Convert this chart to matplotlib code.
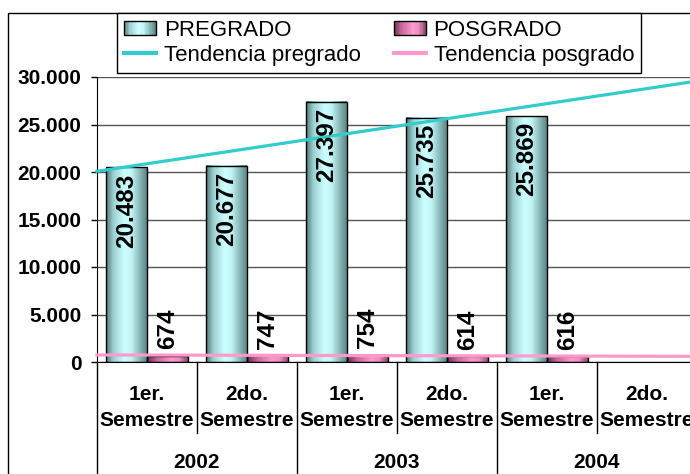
import matplotlib
matplotlib.use('Agg')
import matplotlib.pyplot as plt
import matplotlib.transforms as mtransforms
import numpy as np
from matplotlib import font_manager
from matplotlib.colors import LinearSegmentedColormap
from matplotlib.legend_handler import HandlerBase
from matplotlib.lines import Line2D
from matplotlib.patches import Rectangle
from matplotlib.ticker import FuncFormatter

# datos
periodos = ['1er.', '2do.', '1er.', '2do.', '1er.', '2do.']
anios = ['2002', '2003', '2004']
pregrado = [20483, 20677, 27397, 25735, 25869]
posgrado = [674, 747, 754, 614, 616]

plt.rcParams['font.family'] = ['Liberation Sans', 'DejaVu Sans']

installed = {f.name for f in font_manager.fontManager.ttflist}
if 'Liberation Sans Narrow' in installed:
    legend_font = {'family': 'Liberation Sans Narrow', 'size': 19}
else:
    legend_font = {'family': 'Liberation Sans', 'size': 16}

cmap_pre = LinearSegmentedColormap.from_list(
    'pre', [(0, '#4f7878'), (0.18, '#9ccfcf'), (0.45, '#ccffff'),
            (0.62, '#c2f5f5'), (1, '#5a8585')])
cmap_pos = LinearSegmentedColormap.from_list(
    'pos', [(0, '#6a3050'), (0.25, '#c86a9c'), (0.6, '#ff99cc'),
            (0.78, '#f08cc0'), (1, '#8a4a6c')])

W, H = 690, 474
fig = plt.figure(figsize=(W / 100, H / 100), dpi=100)
ax = fig.add_axes([97 / W, 112 / H, 600 / W, 285 / H])

x = np.arange(len(pregrado))
ancho = 0.41
bars_pre = ax.bar(x - ancho / 2, pregrado, ancho, facecolor='none',
                  edgecolor='black', linewidth=1, zorder=3)
bars_pos = ax.bar(x + ancho / 2, posgrado, ancho, facecolor='none',
                  edgecolor='black', linewidth=1, zorder=3)

# relleno con degradado tipo cilindro
grad = np.linspace(0, 1, 256).reshape(1, -1)
for bars, cmap in [(bars_pre, cmap_pre), (bars_pos, cmap_pos)]:
    for b in bars:
        x0, y0 = b.get_x(), b.get_y()
        ax.imshow(grad, extent=(x0, x0 + b.get_width(), y0, y0 + b.get_height()),
                  cmap=cmap, aspect='auto', zorder=2, interpolation='bilinear')

ax.set_xlim(-0.5, 5.5)
ax.set_ylim(0, 30000)
ax.set_aspect('auto')

# lineas de tendencia
xt = np.array([-0.5, 5.5])
p1 = np.polyfit(x, pregrado, 1)
p2 = np.polyfit(x, posgrado, 1)
ax.plot(xt, np.polyval(p1, xt), color='#33cccc', lw=2.3, zorder=4, clip_on=False)
ax.plot(xt, np.polyval(p2, xt), color='#ff99cc', lw=2.3, zorder=4, clip_on=False)

fmt = lambda v: f'{int(v):,}'.replace(',', '.')
for b, v in zip(bars_pre, pregrado):
    ax.annotate(fmt(v), (b.get_x() + b.get_width() / 2, v), xytext=(0, -4.3),
                textcoords='offset points', rotation=90, ha='center', va='top',
                fontsize=17.5, fontweight='bold', zorder=5)
for b, v in zip(bars_pos, posgrado):
    ax.annotate(fmt(v), (b.get_x() + b.get_width() / 2, v), xytext=(0, 4.6),
                textcoords='offset points', rotation=90, ha='center', va='bottom',
                fontsize=17.5, fontweight='bold', zorder=5)

ax.yaxis.set_major_locator(plt.MultipleLocator(5000))
ax.yaxis.set_major_formatter(FuncFormatter(lambda v, p: fmt(v)))
ax.tick_params(axis='y', length=4.3, width=1, pad=7, labelsize=15)
for t in ax.get_yticklabels():
    t.set_fontweight('bold')
ax.set_xticks([])
ax.grid(axis='y', color='#555555', linewidth=1, zorder=1)
ax.set_axisbelow(True)
ax.spines['top'].set_visible(False)
ax.spines['right'].set_visible(False)

# etiquetas del eje x en dos niveles
tr = mtransforms.blended_transform_factory(ax.transData, fig.transFigure)
for i, per in enumerate(periodos):
    ax.text(i, 1 - 395 / H, per, transform=tr, ha='center', va='center',
            fontsize=15, fontweight='bold')
    ax.text(i, 1 - 420 / H, 'Semestre', transform=tr, ha='center', va='center',
            fontsize=15, fontweight='bold')
for j, a in enumerate(anios):
    ax.text(2 * j + 0.5, 1 - 463 / H, a, transform=tr, ha='center', va='center',
            fontsize=15, fontweight='bold')
for xs in [-0.5, 1.5, 3.5]:
    ax.add_line(Line2D([xs, xs], [112 / H, -0.05], transform=tr, color='black',
                       lw=1, clip_on=False))
for xs in [0.5, 2.5, 4.5]:
    ax.add_line(Line2D([xs, xs], [112 / H, 1 - 433 / H], transform=tr,
                       color='black', lw=1, clip_on=False))

# borde exterior
fig.patches.append(Rectangle((8 / W, -0.1), 1.0, 1.1 - 13 / H, transform=fig.transFigure,
                             fill=False, edgecolor='black', lw=1))


class GradientHandler(HandlerBase):
    def __init__(self, cmap):
        super().__init__()
        self.cmap = cmap

    def create_artists(self, legend, orig_handle, xdescent, ydescent,
                       width, height, fontsize, trans):
        h = height * 0.85
        x0, y0 = -xdescent, -ydescent + (height - h) / 2
        n = 24
        arts = [Rectangle((x0 + i * width / n, y0), width / n * 1.05, h,
                          facecolor=self.cmap((i + 0.5) / n), edgecolor='none',
                          transform=trans) for i in range(n)]
        arts.append(Rectangle((x0, y0), width, h, facecolor='none',
                              edgecolor='black', lw=1, transform=trans))
        return arts


proxy_pre = Rectangle((0, 0), 1, 1)
proxy_pos = Rectangle((0, 0), 1, 1)
handles = [proxy_pre, Line2D([], [], color='#33cccc', lw=3),
           proxy_pos, Line2D([], [], color='#ff99cc', lw=3)]
labels = ['PREGRADO', 'Tendencia pregrado', 'POSGRADO', 'Tendencia posgrado']
fs = legend_font['size'] * 100 / 72
leg = fig.legend(handles, labels, ncol=2, loc='upper left',
                 bbox_to_anchor=(117 / W, 1 - 13 / H), bbox_transform=fig.transFigure,
                 borderaxespad=0, fancybox=False, framealpha=1, edgecolor='black',
                 prop=legend_font, handlelength=32 / fs, handletextpad=8 / fs,
                 columnspacing=33 / fs, borderpad=0.3, labelspacing=0.2,
                 handler_map={proxy_pre: GradientHandler(cmap_pre),
                              proxy_pos: GradientHandler(cmap_pos)})
leg.get_frame().set_linewidth(1)

fig.savefig('out.png', dpi=100)
